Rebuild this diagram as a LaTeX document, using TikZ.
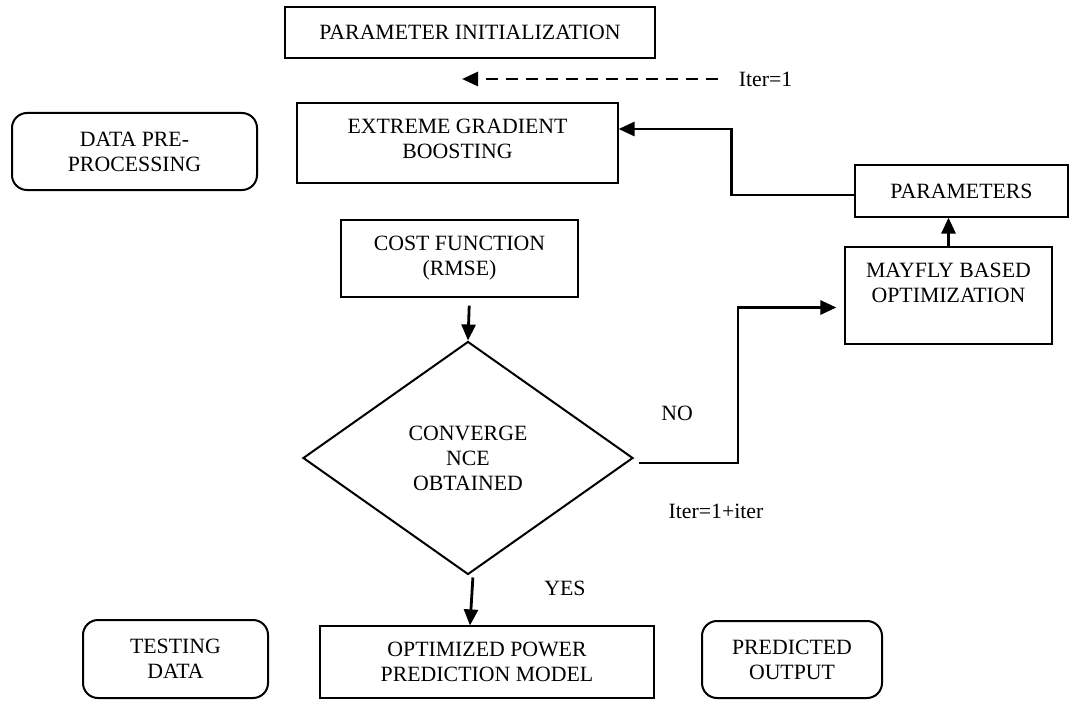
\documentclass[tikz,border=0pt]{standalone}
\usepackage{fontspec}
\setmainfont{Liberation Serif}
\usetikzlibrary{arrows.meta,shapes.geometric}
\begin{document}
\begin{tikzpicture}[x=1pt,y=-1pt,
    txt/.style={font=\fontsize{21.8}{25}\selectfont, align=center, inner sep=0pt},
    box/.style={txt, draw, line width=1.2pt},
    rbox/.style={txt, draw, line width=2pt, rounded corners=15pt},
    decision/.style={txt, draw, diamond, line width=2pt, aspect=1.42},
    flow/.style={line width=2.8pt, -{Triangle[length=16pt,width=14pt]}},
    dashflow/.style={flow, dash pattern=on 12pt off 8pt}]
    \useasboundingbox (0,0) rectangle (1072,701);

    % top row
    \node[box, minimum width=370pt, minimum height=51pt] (init) at (470,32.5) {PARAMETER INITIALIZATION};
    \node[txt] (iterone) at (765.5,79) {Iter=1};
    \coordinate (dashtail) at (718,79);
    \coordinate (dashtip) at (462,79);
    \draw[dashflow] (dashtail) -- (dashtip);

    \node[rbox, minimum width=245pt, minimum height=77pt] (data) at (134.5,151.5) {DATA PRE-\\PROCESSING};
    \node[box, minimum width=321pt, minimum height=80pt] (xgb) at (457.5,143) {EXTREME GRADIENT\\BOOSTING\\[-16pt]\mbox{}};

    % optimisation loop
    \node[box, minimum width=213pt, minimum height=52pt] (params) at (961.5,191) {PARAMETERS};
    \node[box, minimum width=207pt, minimum height=97pt] (mayfly) at (948.5,295.5) {MAYFLY BASED\\OPTIMIZATION\\~};
    \node[box, minimum width=237pt, minimum height=77pt] (cost) at (459.5,258.5) {COST FUNCTION\\(RMSE)};
    \node[decision, minimum width=330pt, minimum height=233pt] (conv) at (468,458) {CONVERGE\\NCE\\OBTAINED};

    \node[txt] (no) at (677,413) {NO};
    \node[txt] (iternext) at (716,511) {Iter=1+iter};
    \node[txt] (yes) at (565,588) {YES};

    % bottom row
    \node[rbox, minimum width=185pt, minimum height=78pt] (testing) at (175.5,659) {TESTING\\DATA};
    \node[box, minimum width=334pt, minimum height=72pt] (optim) at (487,662) {OPTIMIZED POWER\\PREDICTION MODEL};
    \node[rbox, minimum width=180pt, minimum height=77pt] (predicted) at (792,659.5) {PREDICTED\\OUTPUT};

    % connectors
    \draw[flow] ([yshift=-4pt]params.west) -- ++(-123,0) |- ([yshift=14pt]xgb.east);
    \draw[flow] (mayfly.north) -- (mayfly.north |- params.south);
    \draw[flow, shorten <=8pt] ([xshift=10pt]cost.south) -- (conv.north);
    \draw[flow, shorten <=5pt, shorten >=8pt] ([yshift=-5pt]conv.east) -- ++(104,0) |- ([yshift=-12pt]mayfly.west);
    \draw[flow, shorten <=2pt] ([xshift=5pt]conv.south) -- ([xshift=-17pt]optim.north);
\end{tikzpicture}
\end{document}
